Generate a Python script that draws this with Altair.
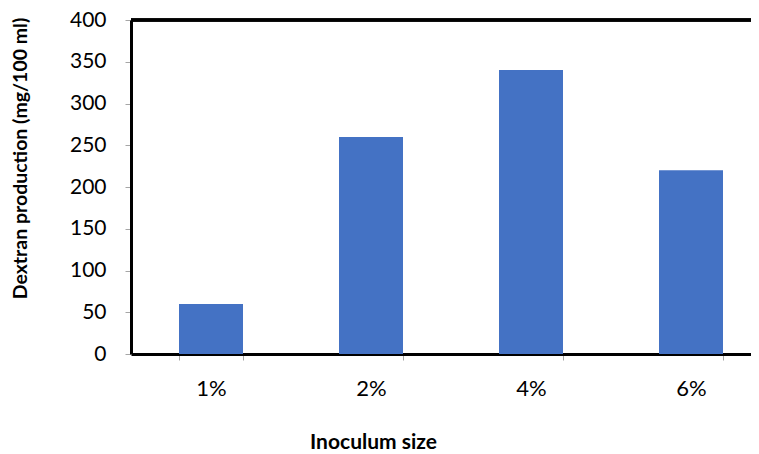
import altair as alt
import pandas as pd

categories = ["1%", "2%", "4%", "6%"]
values = [60, 260, 340, 220]

df = pd.DataFrame({"size": categories, "dextran": values})

FONT = "Lato"

xscale = alt.Scale(domain=categories, paddingInner=0.6, paddingOuter=0.3, range=[0, 640])
yscale = alt.Scale(domain=[0, 400])

bars = alt.Chart(df).mark_bar(color="#4472C4").encode(
    x=alt.X("size:N", sort=categories, scale=xscale,
            axis=alt.Axis(title="Inoculum size", labelAngle=0,
                          domainColor="#000000", domainWidth=3,
                          tickBand="extent", tickColor="#a6a6a6", tickSize=6,
                          labelPadding=18, labelFontSize=22, labelFont=FONT,
                          labelColor="#000000",
                          titleFont=FONT, titleFontSize=21, titleFontWeight="bold",
                          titleColor="#000000", titleX=242, titleY=88,
                          titleAlign="center", titleBaseline="middle")),
    y=alt.Y("dextran:Q", scale=yscale,
            axis=alt.Axis(title="Dextran production (mg/100 ml)", values=list(range(0, 401, 50)),
                          domainColor="#000000", domainWidth=3,
                          grid=False, tickColor="#a6a6a6", tickSize=6,
                          labelPadding=19, labelFontSize=21, labelFont=FONT,
                          labelColor="#000000",
                          titleFont=FONT, titleFontSize=19.5, titleFontWeight="bold",
                          titleColor="#000000", titleX=-111, titleY=138,
                          titleAlign="center", titleBaseline="middle", titleAngle=270)),
)

top = alt.Chart(df).mark_rule(color="#000000", strokeWidth=3).encode(
    y=alt.datum(400, scale=yscale),
    x=alt.value(0),
    x2=alt.value(640),
)

chart = alt.layer(bars, top).properties(
    width=620, height=334,
    autosize=alt.AutoSizeParams(type="none"),
    padding={"left": 123, "top": 12, "right": 0, "bottom": 100},
    background="#ffffff",
).configure_view(stroke=None)

chart.save("out.html", embed_options={"renderer": "svg", "actions": False})
